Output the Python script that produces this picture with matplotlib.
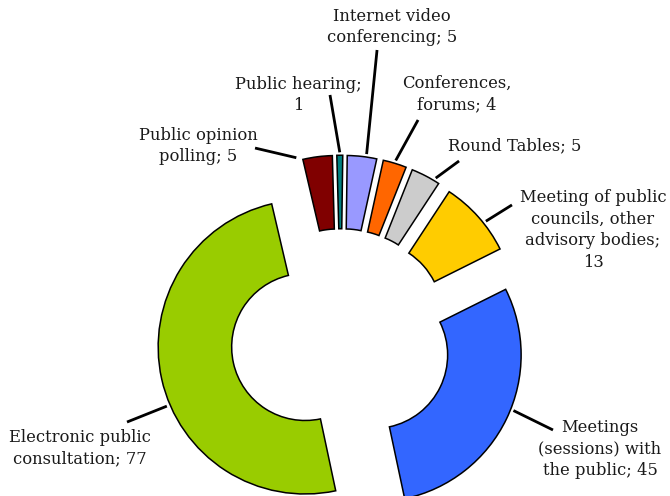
import matplotlib
matplotlib.use("Agg")
import matplotlib.pyplot as plt
import numpy as np

# data
names = ["Electronic public\nconsultation", "Public opinion\npolling", "Public hearing",
         "Internet video\nconferencing", "Conferences,\nforums", "Round Tables",
         "Meeting of public\ncouncils, other\nadvisory bodies",
         "Meetings\n(sessions) with\nthe public"]
values = [77, 5, 1, 5, 4, 5, 13, 45]
seps = ["; ", "; ", ";\n", "; ", "; ", "; ", ";\n", "; "]
colors = ["#99CC00", "#800000", "#008080", "#9999FF", "#FF6600", "#CCCCCC", "#FFCC00", "#3366FF"]

# label layout (data units, pie radius = 1)
text_pos = [(-1.776, -0.741), (-0.973, 1.313), (-0.293, 1.660), (0.347, 2.122),
            (0.789, 1.667), (1.184, 1.313), (1.714, 0.741), (1.762, -0.748)]
line_end = [(-1.456, -0.565), (-0.585, 1.299), (-0.075, 1.660), (0.245, 1.966),
            (0.524, 1.490), (0.803, 1.211), (1.163, 0.912), (1.442, -0.619)]
# where the leader leaves the wedge, degrees clockwise from wedge middle
nudge = [-8.5, -6.5, 0, 1.3, 0, 3, 2.5, -3.2]

plt.rcParams['font.family'] = ['DejaVu Serif']

fig = plt.figure(figsize=(6.7, 4.96), dpi=100)
ax = fig.add_axes([0, 0, 1, 1])
wedges, _ = ax.pie(values, colors=colors, startangle=-78, counterclock=False,
                   explode=[0.25] * len(values), radius=1,
                   wedgeprops=dict(width=0.5, edgecolor='black', linewidth=1.1))

for w, name, v, sep, tp, le, nd in zip(wedges, names, values, seps, text_pos, line_end, nudge):
    mid = np.deg2rad((w.theta1 + w.theta2) / 2 - nd)
    start = (1.27 * np.cos(mid), 1.27 * np.sin(mid))
    ax.plot([start[0], le[0]], [start[1], le[1]], color='black', linewidth=2.0,
            solid_capstyle='butt')
    ax.text(tp[0], tp[1], name + sep + str(v), ha='center', va='center',
            fontsize=11.8, linespacing=1.35, color='#1a1a1a')

ax.set_xlim(-2.320, 2.238)
ax.set_ylim(-1.068, 2.306)
ax.axis('off')
fig.savefig('out.png', dpi=100)
